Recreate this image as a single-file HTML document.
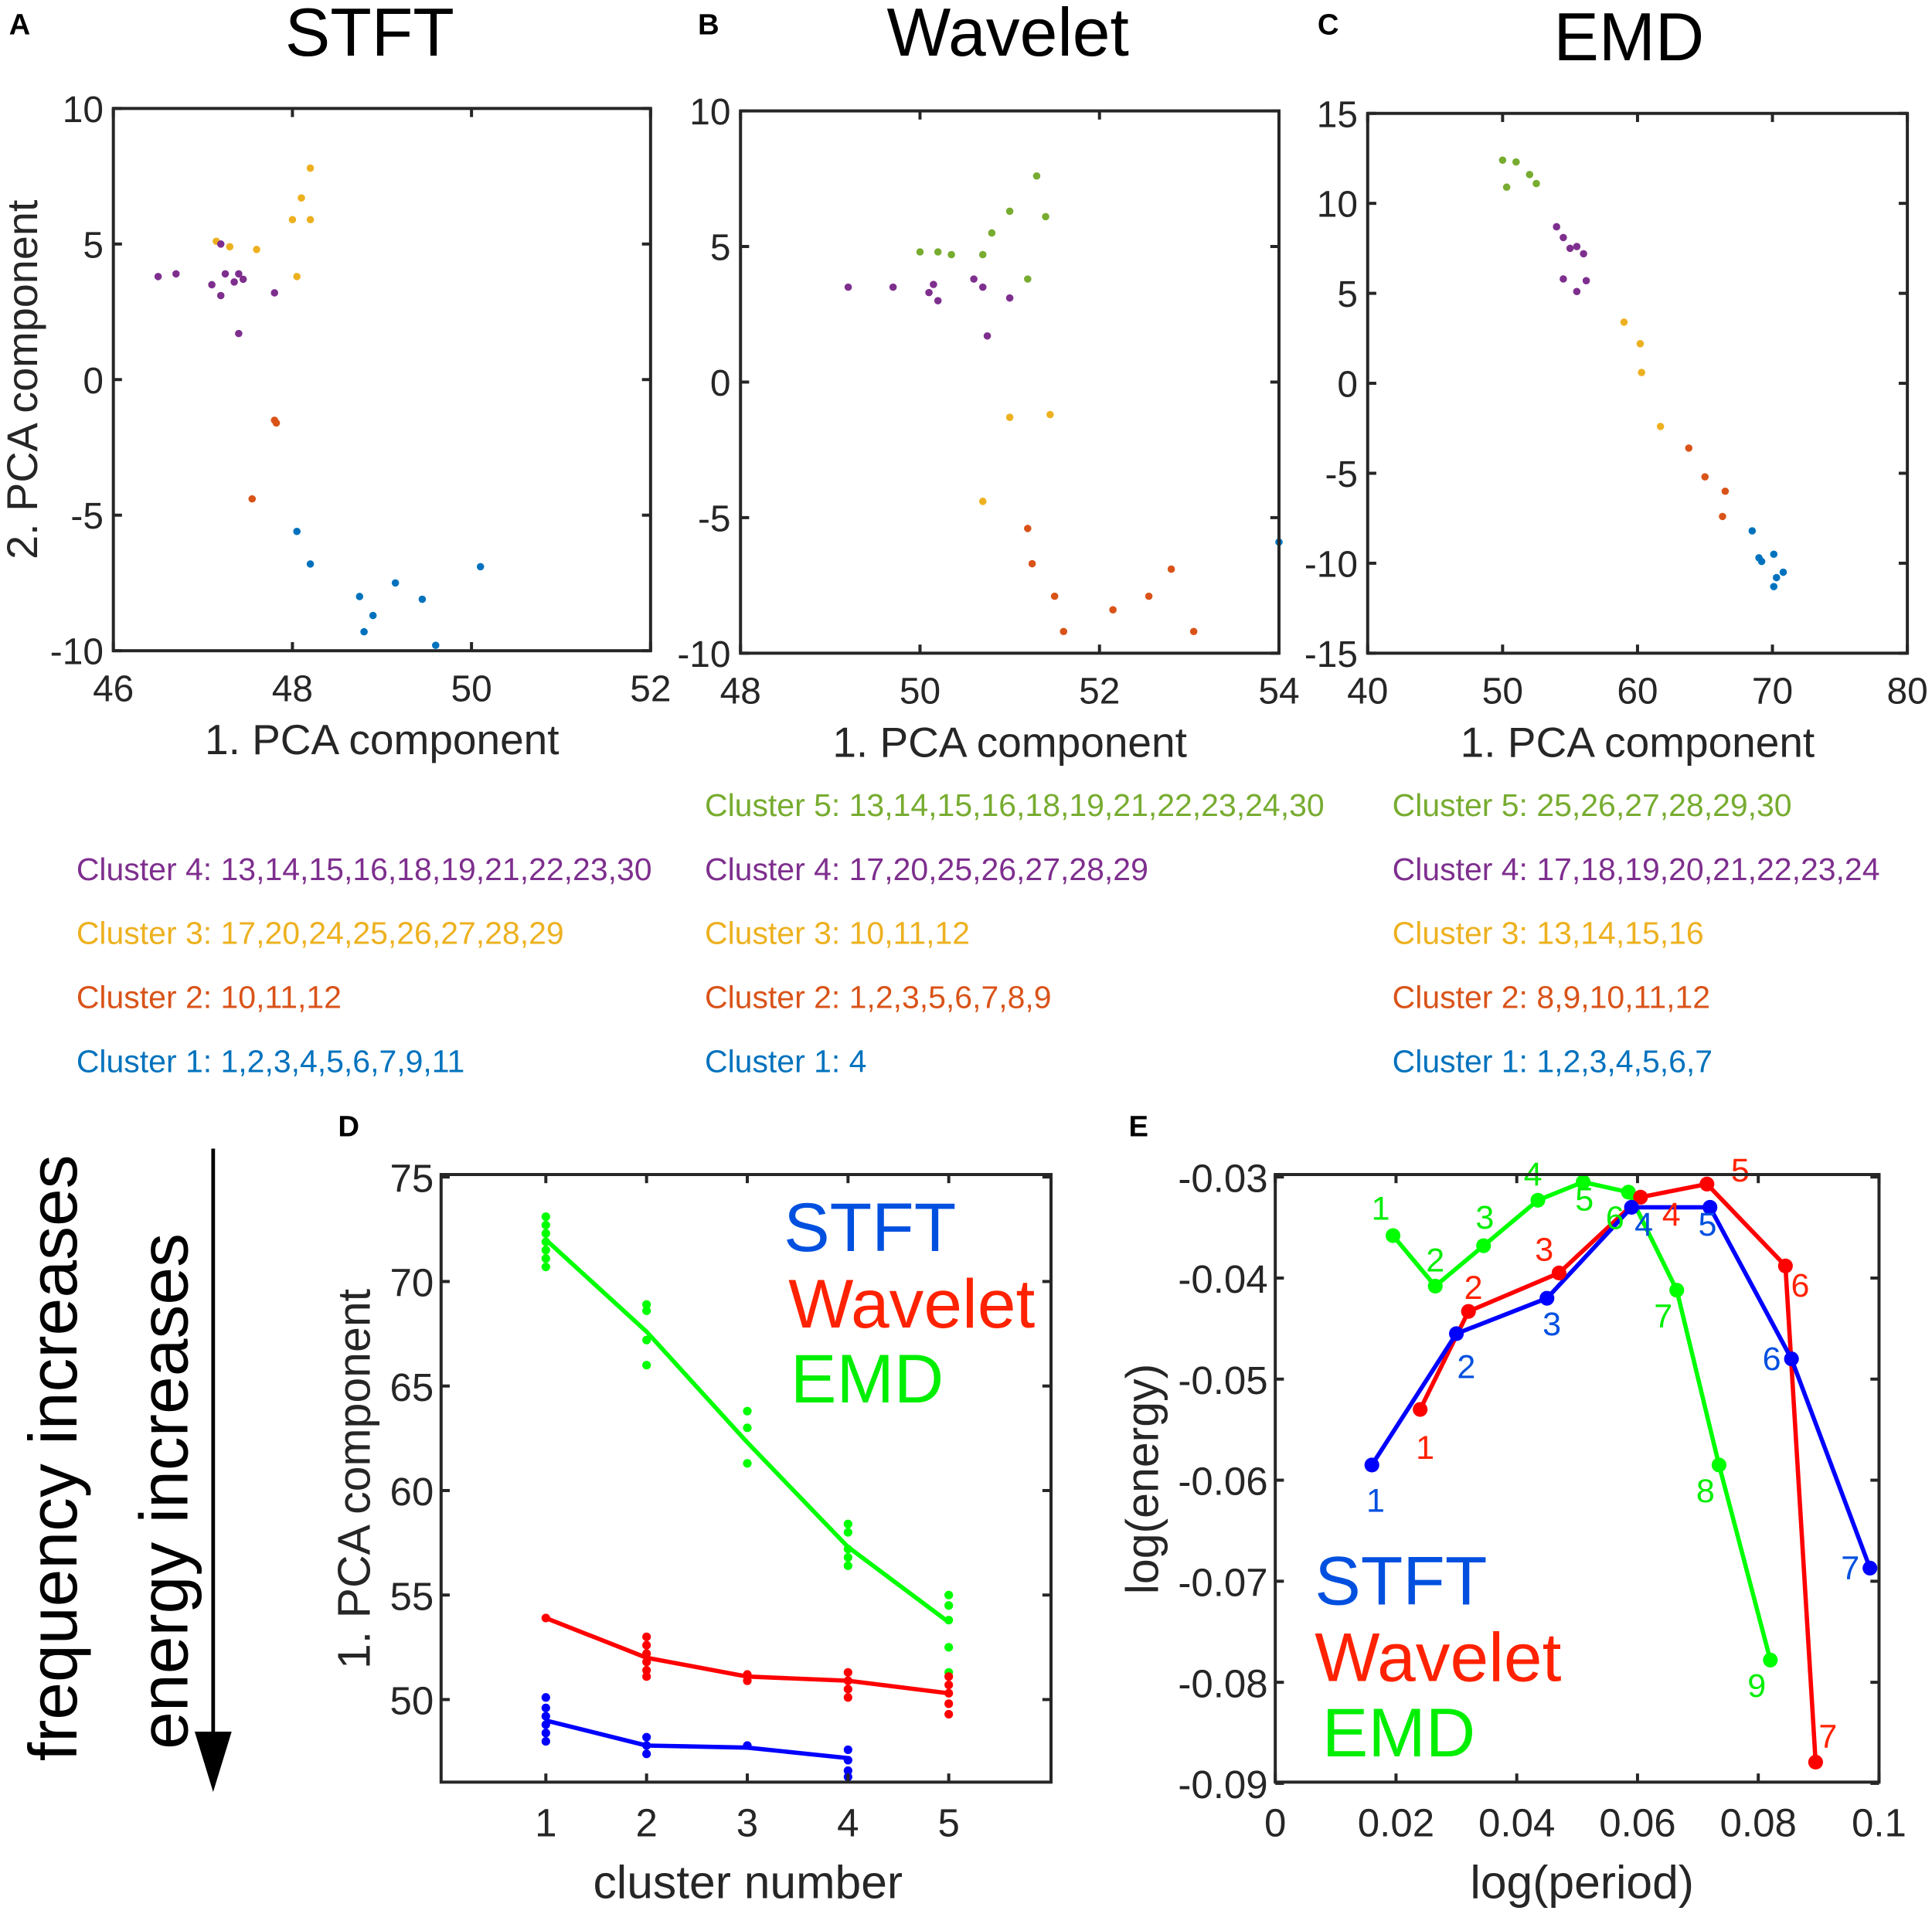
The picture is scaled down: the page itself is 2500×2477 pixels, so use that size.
<!DOCTYPE html>
<html><head><meta charset="utf-8"><style>
html,body{margin:0;padding:0;background:#fff}
svg{display:block;font-family:"Liberation Sans",Arial,sans-serif}
</style></head><body>
<svg id="fig" width="2500" height="2477" viewBox="0 0 1568 1553" preserveAspectRatio="none" xmlns="http://www.w3.org/2000/svg"></svg>
<script>
// ---------- data ----------
const colBlue="#0072BD",colRed="#D95319",colYel="#EDB120",colPur="#7E2F8E",colGrn="#77AC30";
// Panel A (STFT) scatter
const aBlueX=[48.05,48.2,48.75,48.9,48.8,49.15,49.45,49.6,50.1];
const aBlueY=[-5.6,-6.8,-8,-8.7,-9.3,-7.5,-8.1,-9.8,-6.9];
const aRedX=[47.8,47.82,47.55];
const aRedY=[-1.5,-1.6,-4.4];
const aYelX=[47.15,47.3,47.6,48,48.1,48.2,48.2,48.05];
const aYelY=[5.1,4.9,4.8,5.9,6.7,7.8,5.9,3.8];
const aPurX=[46.5,46.7,47.1,47.2,47.25,47.35,47.4,47.45,47.4,47.8,47.2];
const aPurY=[3.8,3.9,3.5,3.1,3.9,3.6,3.9,3.7,1.7,3.2,5.0];
// Panel B (Wavelet)
const bGrnX=[50,50.2,50.35,50.7,50.8,51,51.3,51.4,51.2];
const bGrnY=[4.8,4.8,4.7,4.7,5.5,6.3,7.6,6.1,3.8];
const bPurX=[49.2,49.7,50.1,50.15,50.2,50.6,50.7,50.75,51];
const bPurY=[3.5,3.5,3.3,3.6,3.0,3.8,3.5,1.7,3.1];
const bYelX=[51,51.45,50.7];
const bYelY=[-1.3,-1.2,-4.4];
const bRedX=[51.2,51.25,51.5,51.6,52.15,52.55,52.8,53.05];
const bRedY=[-5.4,-6.7,-7.9,-9.2,-8.4,-7.9,-6.9,-9.2];
const bBlueX=[54];
const bBlueY=[-5.9];
// Panel C (EMD)
const cGrnX=[50,51,50.3,52,52.5];
const cGrnY=[12.4,12.3,10.9,11.6,11.1];
const cPurX=[54,54.5,55,55.5,56,54.5,55.5,56.2];
const cPurY=[8.7,8.1,7.5,7.6,7.2,5.8,5.1,5.7];
const cYelX=[59,60.2,60.3,61.7];
const cYelY=[3.4,2.2,0.6,-2.4];
const cRedX=[63.8,65,66.5,66.3];
const cRedY=[-3.6,-5.2,-6.0,-7.4];
const cBlueX=[68.5,69,69.2,70.1,70.3,70.8,70.1];
const cBlueY=[-8.2,-9.7,-9.9,-9.5,-10.8,-10.5,-11.3];
// Panel D
const dClusters=[1,2,3,4,5];
const dGreenMean=[72,67.6,62.3,57.3,53.7];
const dRedMean=[53.9,52,51.1,50.9,50.3];
const dBlueMean=[49,47.8,47.7,47.2];
const dGreenPts=[[73.1,72.7,72.3,71.9,71.5,71.1,70.7],[68.9,68.6,67.2,66],[63.8,63,61.3],[58.4,58,57.2,56.8,56.4],[55,54.5,53.8,52.5,51.3]];
const dRedPts=[[53.9],[53,52.6,52.2,51.8,51.4,51.1],[51.2,50.9],[51.3,50.9,50.5,50.1],[51.1,50.7,50.3,49.8,49.3]];
const dBluePts=[[50.1,49.6,49.2,48.8,48.4,48],[48.2,47.8,47.4],[47.8],[47.6,47.1,46.6,46.3]];
const dYTicks=[50,55,60,65,70,75];
// Panel E
const eStftX=[0.016,0.03,0.045,0.059,0.072,0.0855,0.0985];
const eStftY=[-0.0585,-0.0455,-0.042,-0.033,-0.033,-0.048,-0.0687];
const eWavX=[0.024,0.032,0.047,0.0605,0.0715,0.0845,0.0895];
const eWavY=[-0.053,-0.0433,-0.0395,-0.032,-0.0307,-0.0388,-0.0879];
const eEmdX=[0.0195,0.0265,0.0345,0.0435,0.051,0.0585,0.0665,0.0735,0.082];
const eEmdY=[-0.0358,-0.0408,-0.0368,-0.0323,-0.0305,-0.0315,-0.0412,-0.0585,-0.0778];
const eXTicks=[0,0.02,0.04,0.06,0.08,0.1];
const eYTicks=[-0.03,-0.04,-0.05,-0.06,-0.07,-0.08,-0.09];

// ---------- helpers ----------
const svg=document.getElementById('fig');
const NS="http://www.w3.org/2000/svg";
function mk(tag,attrs,parent){const e=document.createElementNS(NS,tag);for(const k in attrs)e.setAttribute(k,attrs[k]);(parent||svg).appendChild(e);return e;}
function txt(s,x,y,size,fill,anchor,name,extra){const e=mk('text',Object.assign({x:x,y:y,'font-size':size,fill:fill||'#000','text-anchor':anchor||'middle'},extra||{}));e.textContent=s;


return e;}
function lin(d0,d1,p0,p1){return v=>p0+(v-d0)*(p1-p0)/(d1-d0);}
function box(x0,y0,x1,y1,name){const r=mk('rect',{x:x0,y:y0,width:x1-x0,height:y1-y0,fill:'none',stroke:'#262626','stroke-width':2.5});

}
function tick(x1,y1,x2,y2){const l=mk('line',{x1:x1,y1:y1,x2:x2,y2:y2,stroke:'#262626','stroke-width':2.5});

}
function dots(xs,ys,sx,sy,col,r,name){xs.forEach((v,i)=>{const c=mk('circle',{cx:sx(v),cy:sy(ys[i]),r:r,fill:col});

});}
function poly(xs,ys,sx,sy,col,w,name){const p=mk('polyline',{points:xs.map((v,i)=>sx(v)+','+sy(ys[i])).join(' '),fill:'none',stroke:col,'stroke-width':w,'stroke-linejoin':'round'});

}

function scatterPanel(o){
  const sx=lin(o.xr[0],o.xr[1],o.x0,o.x1), sy=lin(o.yr[0],o.yr[1],o.y1,o.y0);
  o.series.forEach(s=>dots(s[0],s[1],sx,sy,s[2],3,o.id+'-point'));
  box(o.x0,o.y0,o.x1,o.y1,o.id+'-axes');
  o.xt.forEach(v=>{const x=sx(v);tick(x,o.y1,x,o.y1-7);tick(x,o.y0,x,o.y0+7);txt(String(v),x,o.y1+41,30,'#262626','middle',o.id+'-x-tick-label');});
  o.yt.forEach(v=>{const y=sy(v);tick(o.x0,y,o.x0+7,y);tick(o.x1,y,o.x1-7,y);txt(String(v),o.x0-8,y+11,30,'#262626','end',o.id+'-y-tick-label');});
  txt('1. PCA component',(o.x0+o.x1)/2,o.y1+84,34.5,'#262626','middle',o.id+'-x-axis-title');
}
// ---------- panels A-C ----------
txt('A',16,28,24,'#000','middle','panel-label-a',{'font-weight':'bold'});
txt('B',575,28,24,'#000','middle','panel-label-b',{'font-weight':'bold'});
txt('C',1078,28,24,'#000','middle','panel-label-c',{'font-weight':'bold'});
txt('STFT',300,45,55,'#000','middle','title-stft');
txt('Wavelet',818,45,55,'#000','middle','title-wavelet');
txt('EMD',1322,49,55,'#000','middle','title-emd');
scatterPanel({id:'stft',x0:92,x1:528,y0:88,y1:528,xr:[46,52],yr:[-10,10],xt:[46,48,50,52],yt:[-10,-5,0,5,10],
  series:[[aBlueX,aBlueY,colBlue],[aRedX,aRedY,colRed],[aYelX,aYelY,colYel],[aPurX,aPurY,colPur]]});
txt('2. PCA component',30,308,35,'#262626','middle','stft-y-axis-title',{transform:'rotate(-90 30 308)'});
scatterPanel({id:'wavelet',x0:601,x1:1038,y0:90,y1:530,xr:[48,54],yr:[-10,10],xt:[48,50,52,54],yt:[-10,-5,0,5,10],
  series:[[bGrnX,bGrnY,colGrn],[bPurX,bPurY,colPur],[bYelX,bYelY,colYel],[bRedX,bRedY,colRed],[bBlueX,bBlueY,colBlue]]});
scatterPanel({id:'emd',x0:1110,x1:1548,y0:92,y1:530,xr:[40,80],yr:[-15,15],xt:[40,50,60,70,80],yt:[-15,-10,-5,0,5,10,15],
  series:[[cGrnX,cGrnY,colGrn],[cPurX,cPurY,colPur],[cYelX,cYelY,colYel],[cRedX,cRedY,colRed],[cBlueX,cBlueY,colBlue]]});
// cluster lists
[[ 'Cluster 4: 13,14,15,16,18,19,21,22,23,30',colPur,714],['Cluster 3: 17,20,24,25,26,27,28,29',colYel,766],['Cluster 2: 10,11,12',colRed,818],['Cluster 1: 1,2,3,4,5,6,7,9,11',colBlue,870]]
 .forEach(c=>txt(c[0],62,c[2],25.7,c[1],'start','stft-cluster-list'));
[['Cluster 5: 13,14,15,16,18,19,21,22,23,24,30',colGrn,662],['Cluster 4: 17,20,25,26,27,28,29',colPur,714],['Cluster 3: 10,11,12',colYel,766],['Cluster 2: 1,2,3,5,6,7,8,9',colRed,818],['Cluster 1: 4',colBlue,870]]
 .forEach(c=>txt(c[0],572,c[2],25.7,c[1],'start','wavelet-cluster-list'));
[['Cluster 5: 25,26,27,28,29,30',colGrn,662],['Cluster 4: 17,18,19,20,21,22,23,24',colPur,714],['Cluster 3: 13,14,15,16',colYel,766],['Cluster 2: 8,9,10,11,12',colRed,818],['Cluster 1: 1,2,3,4,5,6,7',colBlue,870]]
 .forEach(c=>txt(c[0],1130,c[2],25.7,c[1],'start','emd-cluster-list'));

// ---------- side annotation ----------
txt('frequency increases',62,1183,55,'#000','middle','frequency-increases-label',{transform:'rotate(-90 62 1183)'});
txt('energy increases',152,1210,55,'#000','middle','energy-increases-label',{transform:'rotate(-90 152 1210)'});
mk('line',{x1:173,y1:932,x2:173,y2:1420,stroke:'#000','stroke-width':3,});
mk('polygon',{points:'158,1405 188,1405 173,1454','fill':'#000',});

// ---------- panel D ----------
(function(){
  const x0=358,x1=853,y0=953,y1=1446;
  const sx=v=>443+(v-1)*81.75, sy=lin(50,75,1379,955);
  txt('D',283,922,24,'#000','middle','panel-label-d',{'font-weight':'bold'});
  dGreenPts.forEach((a,i)=>a.forEach(v=>{const c=mk('circle',{cx:sx(dClusters[i]),cy:sy(v),r:3.5,fill:'#00FF00'});}));
  dRedPts.forEach((a,i)=>a.forEach(v=>{const c=mk('circle',{cx:sx(dClusters[i]),cy:sy(v),r:3.5,fill:'#FF0000'});}));
  dBluePts.forEach((a,i)=>a.forEach(v=>{const c=mk('circle',{cx:sx(dClusters[i]),cy:sy(v),r:3.5,fill:'#0000FF'});}));
  poly(dClusters,dGreenMean,sx,sy,'#00FF00',3.5,'emd-mean-line');
  poly(dClusters,dRedMean,sx,sy,'#FF0000',3.5,'wavelet-mean-line');
  poly(dClusters.slice(0,4),dBlueMean,sx,sy,'#0000FF',3.5,'stft-mean-line');
  box(x0,y0,x1,y1,'panel-d-axes');
  dClusters.forEach(v=>{const x=sx(v);tick(x,y1,x,y1-7);tick(x,y0,x,y0+7);txt(String(v),x,y1+44,32,'#262626','middle','d-x-tick-label');});
  dYTicks.forEach(v=>{const y=sy(v);tick(x0,y,x0+7,y);tick(x1,y,x1-7,y);txt(String(v),x0-6,y+12,32,'#262626','end','d-y-tick-label');});
  txt('cluster number',607,y1+94,38,'#262626','middle','d-x-axis-title');
  txt('1. PCA component',300,1200,37,'#262626','middle','d-y-axis-title',{transform:'rotate(-90 300 1200)'});
  txt('STFT',776,1015,56,'#0050E0','end','d-legend-stft');
  txt('Wavelet',840,1077,56,'#FF2200','end','d-legend-wavelet');
  txt('EMD',766,1138,56,'#00EE00','end','d-legend-emd');
})();

// ---------- panel E ----------
(function(){
  const x0=1035,x1=1525,y0=953,y1=1446;
  const sx=lin(0,0.1,x0,x1), sy=lin(-0.03,-0.09,955,1447);
  txt('E',924,922,24,'#000','middle','panel-label-e',{'font-weight':'bold'});
  poly(eEmdX,eEmdY,sx,sy,'#00FF00',3.5,'emd-line');
  poly(eWavX,eWavY,sx,sy,'#FF0000',3.5,'wavelet-line');
  poly(eStftX,eStftY,sx,sy,'#0000FF',3.5,'stft-line');
  dots(eEmdX,eEmdY,sx,sy,'#00FF00',6,'emd-point');
  dots(eWavX,eWavY,sx,sy,'#FF0000',6,'wavelet-point');
  dots(eStftX,eStftY,sx,sy,'#0000FF',6,'stft-point');
  const lg=(xs,ys,off,col,nm)=>xs.forEach((v,i)=>txt(String(i+1),sx(v)+off[i][0],sy(ys[i])+off[i][1],27,col,'middle',nm));
  lg(eStftX,eStftY,[[3,38],[8,36],[4,30],[10,23],[-2,23],[-16,9],[-16,9]],'#0050E0','stft-point-label');
  lg(eWavX,eWavY,[[4,40],[4,-10],[-12,-10],[25,23],[27,-2],[12,25],[10,-12]],'#FF2200','wavelet-point-label');
  lg(eEmdX,eEmdY,[[-10,-13],[0,-12],[1,-14],[-4,-12],[1,23],[-11,30],[-11,30],[-11,30],[-11,30]],'#00EE00','emd-point-label');
  box(x0,y0,x1,y1,'panel-e-axes');
  eXTicks.forEach(v=>{const x=sx(v);tick(x,y1,x,y1-7);tick(x,y0,x,y0+7);txt(String(v),x,y1+44,32,'#262626','middle','e-x-tick-label');});
  eYTicks.forEach(v=>{const y=sy(v);tick(x0,y,x0+7,y);tick(x1,y,x1-7,y);txt(String(v),x0-6,y+12,32,'#262626','end','e-y-tick-label');});
  txt('log(period)',1284,y1+94,38,'#262626','middle','e-x-axis-title');
  txt('log(energy)',940,1200,37,'#262626','middle','e-y-axis-title',{transform:'rotate(-90 940 1200)'});
  txt('STFT',1067,1302,56,'#0050E0','start','e-legend-stft');
  txt('Wavelet',1067,1364,56,'#FF2200','start','e-legend-wavelet');
  txt('EMD',1073,1425,56,'#00EE00','start','e-legend-emd');
})();
</script>
</body></html>
